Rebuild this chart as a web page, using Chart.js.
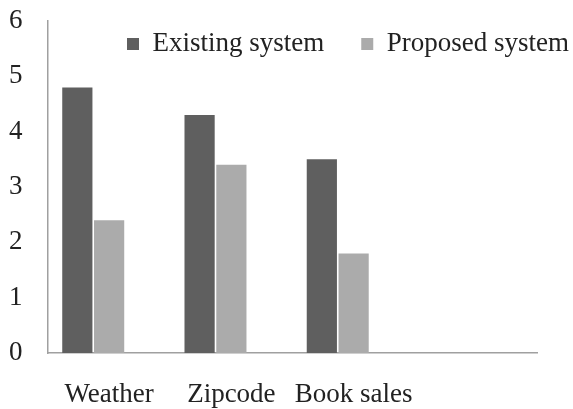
<!DOCTYPE html>
<html><head><meta charset="utf-8">
<script src="https://cdn.jsdelivr.net/npm/chart.js@4"></script>
<style>html,body{margin:0;padding:0;background:#fff}</style>
</head><body>
<canvas id="c" width="573" height="409"></canvas>
<script>
const categories = ['Weather', 'Zipcode', 'Book sales', ''];
const existingSystem = [4.8, 4.3, 3.5, null];
const proposedSystem = [2.4, 3.4, 1.8, null];
const emptySeries = [null, null, null, null];
const yTicks = [0, 1, 2, 3, 4, 5, 6];
const seriesNames = ['Existing system', 'Proposed system', ''];

const FONT = 'Liberation Serif, Times New Roman, serif';
const AXIS = '#a0a0a0';

const legendPlace = {
  id: 'legendPlace',
  afterLayout(chart) {
    const lg = chart.legend;
    if (!lg) return;
    const p = lg.options.labels.padding;
    lg.left = 127 - p;
    lg.right = 760;
    lg.top = 30.5 - p;
    lg.bottom = 90;
    lg.width = lg.right - lg.left;
    lg.height = lg.bottom - lg.top;
  }
};

new Chart(document.getElementById('c'), {
  type: 'bar',
  data: {
    labels: categories,
    datasets: [
      { label: seriesNames[0], data: existingSystem, backgroundColor: '#5f5f5f' },
      { label: seriesNames[1], data: proposedSystem, backgroundColor: '#ababab' },
      { label: seriesNames[2], data: emptySeries, backgroundColor: '#ffffff' }
    ]
  },
  options: {
    responsive: false,
    animation: false,
    devicePixelRatio: 1,
    layout: { padding: { top: 20, right: 36, bottom: 0, left: 9 } },
    datasets: { bar: { categoryPercentage: 0.78, barPercentage: 0.95 } },
    plugins: {
      tooltip: { enabled: false },
      legend: {
        position: 'top',
        align: 'start',
        maxHeight: 1,
        labels: {
          boxWidth: 12,
          boxHeight: 12,
          padding: 37,
          color: '#222',
          font: { family: FONT, size: 27 },
          filter: (item) => item.datasetIndex < 2
        }
      }
    },
    scales: {
      x: {
        grid: { display: false, drawTicks: false },
        border: { display: true, color: AXIS, width: 1.5 },
        ticks: { color: '#222', font: { family: FONT, size: 27 }, padding: 26, maxRotation: 0, autoSkip: false },
        afterFit: (s) => { s.height = 56; }
      },
      y: {
        min: 0,
        max: 6,
        grid: { display: false, drawTicks: false },
        border: { display: true, color: AXIS, width: 1.5 },
        ticks: { color: '#222', font: { family: FONT, size: 27 }, padding: 0, crossAlign: 'far', stepSize: 1 },
        afterBuildTicks: (s) => { s.ticks = yTicks.map(v => ({ value: v })); },
        afterFit: (s) => { s.width = 39; }
      }
    }
  },
  plugins: [legendPlace]
});
</script>
</body></html>
